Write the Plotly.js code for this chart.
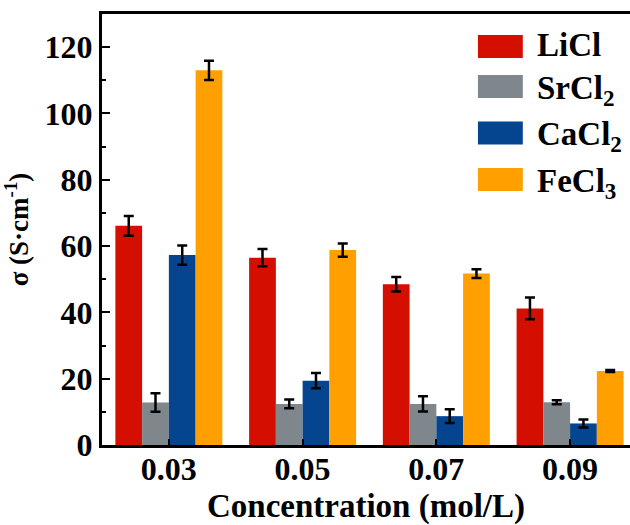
<!DOCTYPE html>
<html>
<head>
<meta charset="utf-8">
<script src="https://cdn.plot.ly/plotly-3.0.1.min.js"></script>
<style>html,body{margin:0;padding:0;background:#fff;}#chart{width:630px;height:525px;}</style>
</head>
<body>
<div id="chart"></div>
<script>
const categories = ['0.03', '0.05', '0.07', '0.09'];
const seriesNames = ['LiCl', 'SrCl<sub>2</sub>', 'CaCl<sub>2</sub>', 'FeCl<sub>3</sub>'];
const seriesColors = ['#d40f00', '#7f868c', '#05458f', '#ffa000'];
const liclValues = [66.1, 56.5, 48.5, 41.2];
const liclErrors = [3.0, 2.6, 2.2, 3.3];
const srcl2Values = [12.8, 12.4, 12.4, 12.9];
const srcl2Errors = [2.8, 1.3, 2.3, 0.6];
const cacl2Values = [57.3, 19.4, 8.7, 6.5];
const cacl2Errors = [2.9, 2.3, 2.1, 1.2];
const fecl3Values = [113.0, 58.8, 51.7, 22.3];
const fecl3Errors = [2.9, 2.0, 1.3, 0.3];

const values = [liclValues, srcl2Values, cacl2Values, fecl3Values];
const errors = [liclErrors, srcl2Errors, cacl2Errors, fecl3Errors];

const font = "'Liberation Serif', 'Times New Roman', Times, serif";

const traces = values.map((v, i) => ({
  type: 'bar',
  x: categories,
  y: v,
  name: seriesNames[i],
  marker: {color: seriesColors[i], line: {width: 0}},
  error_y: {type: 'data', array: errors[i], visible: true, color: '#000', thickness: 2.5, width: 5},
  showlegend: false
}));

// legend drawn as boxes + labels
const legendY = [0.9246, 0.8318, 0.7239, 0.6160];
const shapes = legendY.map((y, i) => ({
  type: 'rect', xref: 'paper', yref: 'paper',
  x0: 0.712, x1: 0.797, y0: y - 0.0267, y1: y + 0.0267,
  fillcolor: seriesColors[i], line: {width: 0}
}));
const annotations = legendY.map((y, i) => ({
  xref: 'paper', yref: 'paper', x: 0.820, y: y,
  xanchor: 'left', yanchor: 'middle', showarrow: false,
  text: '<b>' + seriesNames[i] + '</b>',
  font: {family: font, size: 33, color: '#000'},
  yshift: i === 0 ? 1 : -4
}));

const layout = {
  width: 630, height: 525,
  margin: {l: 102, r: 0, t: 14, b: 80},
  paper_bgcolor: '#fff', plot_bgcolor: '#fff',
  barmode: 'group', bargap: 0.2, bargroupgap: 0,
  font: {family: font, color: '#000'},
  xaxis: {
    type: 'category', range: [-0.5, 3.448],
    showline: true, linecolor: '#000', linewidth: 3, mirror: true,
    ticks: 'inside', ticklen: 6, tickwidth: 2, tickcolor: '#000',
    ticklabelstandoff: -6,
    tickfont: {family: font, size: 32, color: '#000', weight: 'bold'},
    showgrid: false, zeroline: false,
    title: {text: '<b>Concentration (mol/L)</b>', font: {family: font, size: 33, color: '#000'}, standoff: 8}
  },
  yaxis: {
    range: [0, 130], dtick: 20, tick0: 0,
    showline: true, linecolor: '#000', linewidth: 3, mirror: false,
    ticks: 'inside', ticklen: 8, tickwidth: 2, tickcolor: '#000',
    minor: {ticks: 'inside', ticklen: 4, tickwidth: 2, dtick: 10, tickcolor: '#000'},
    tickfont: {family: font, size: 32, color: '#000', weight: 'bold'},
    showgrid: false, zeroline: false,
    title: {text: '<b>σ (S·cm<sup>-1</sup>)</b>', font: {family: font, size: 27, color: '#000'}, standoff: 10}
  },
  shapes: shapes,
  annotations: annotations
};

Plotly.newPlot('chart', traces, layout, {displayModeBar: false, staticPlot: true});
</script>
</body>
</html>
